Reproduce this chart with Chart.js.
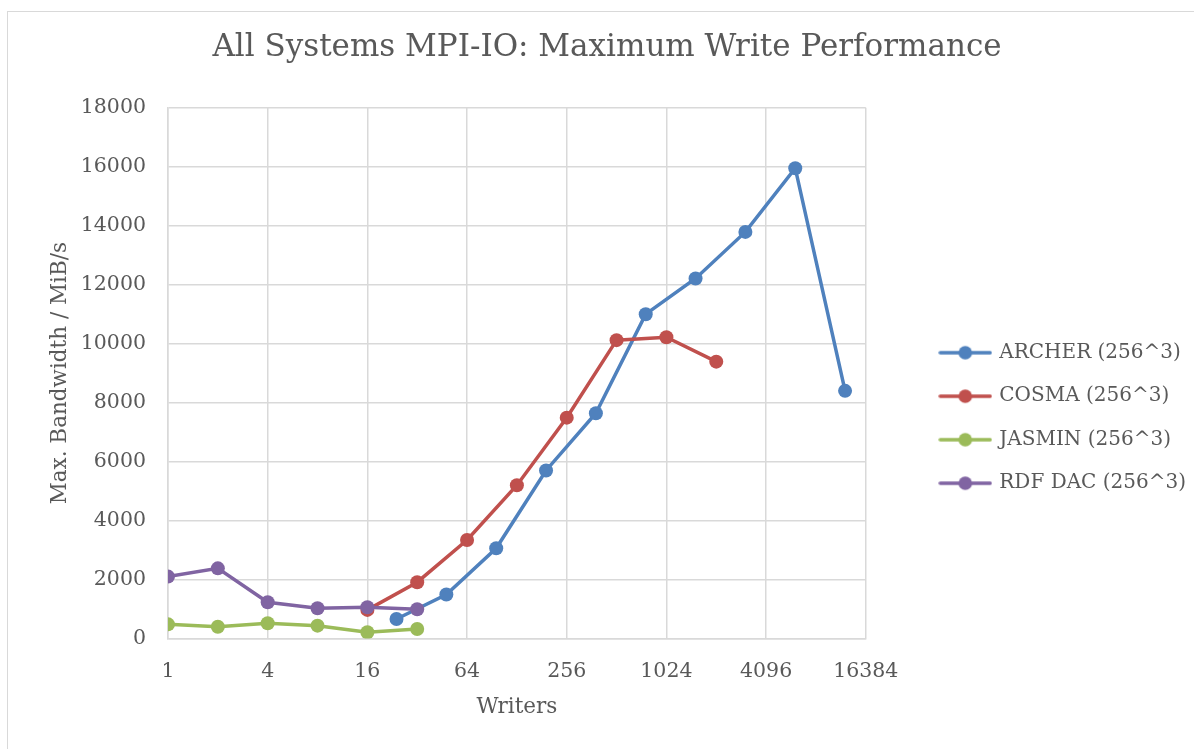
<!DOCTYPE html>
<html><head><meta charset="utf-8">
<script src="https://cdn.jsdelivr.net/npm/chart.js@4/dist/chart.umd.min.js"></script>
<style>
html,body{margin:0;padding:0;background:#fff;overflow:hidden;width:1194px;height:749px;}
#frame{position:absolute;left:7px;top:11px;width:1400px;height:1000px;border:1px solid #d9d9d9;}
#wrap{position:absolute;left:0;top:0;width:1194px;height:749px;}
</style></head><body>
<div id="frame"></div>
<div id="wrap"><canvas id="c" width="1194" height="749"></canvas></div>
<script>
// ---- data ----
const seriesNames = ['ARCHER (256^3)', 'COSMA (256^3)', 'JASMIN (256^3)', 'RDF DAC (256^3)'];
const writersArcher = [24, 48, 96, 192, 384, 768, 1536, 3072, 6144, 12288];
const archer = [660, 1490, 3060, 5700, 7640, 11000, 12210, 13790, 15950, 8400];
const writersCosma = [16, 32, 64, 128, 256, 512, 1024, 2048];
const cosma = [970, 1910, 3340, 5200, 7490, 10120, 10220, 9390];
const writersSmall = [1, 2, 4, 8, 16, 32];
const jasmin = [480, 400, 515, 435, 210, 320];
const rdfdac = [2100, 2380, 1230, 1025, 1060, 990];
const xTickValues = [1, 4, 16, 64, 256, 1024, 4096, 16384];
const yMin = 0, yMax = 18000, yStep = 2000;

const colors = ['#4F81BD', '#C0504D', '#9BBB59', '#8064A2'];
const FONT = "'DejaVu Serif', serif";
const TXT = '#595959';

function pts(xs, ys) { return xs.map((x, i) => ({ x: x, y: ys[i] })); }

function marker(color) {
  const c = document.createElement('canvas');
  c.width = 54; c.height = 16;
  const g = c.getContext('2d');
  g.strokeStyle = color; g.lineWidth = 3.3; g.lineCap = 'round';
  g.beginPath(); g.moveTo(2, 8); g.lineTo(52, 8); g.stroke();
  g.fillStyle = color; g.beginPath(); g.arc(27, 8, 6.8, 0, Math.PI * 2); g.fill();
  return c;
}
const markers = colors.map(marker);

function ds(i, data, order) {
  return {
    label: seriesNames[i], data: data, order: order,
    borderColor: colors[i], backgroundColor: colors[i],
    pointBackgroundColor: colors[i], pointBorderColor: colors[i],
    borderWidth: 3.5, pointRadius: 7, pointHoverRadius: 7, pointBorderWidth: 0,
    tension: 0, fill: false
  };
}

const LEG_FONT = 20, LEG_PAD = 23.5;
const placePlugin = {
  id: 'place',
  afterLayout(chart) {
    const lg = chart.legend;
    if (lg) {
      const w = lg.width;
      lg.left = 917.8; lg.right = lg.left + w;
      const top = 352.7 - LEG_FONT / 2 - LEG_PAD;
      lg.top = top; lg.bottom = top + LEG_PAD + 4 * (LEG_FONT + LEG_PAD);
    }
    const t = chart.titleBlock;
    if (t) { t.left = 20; t.right = 1194; }
  }
};

new Chart(document.getElementById('c'), {
  type: 'line',
  data: {
    datasets: [
      ds(0, pts(writersArcher, archer), 3),
      ds(1, pts(writersCosma, cosma), 2),
      ds(2, pts(writersSmall, jasmin), 1),
      ds(3, pts(writersSmall, rdfdac), 0)
    ]
  },
  plugins: [placePlugin],
  options: {
    responsive: false, animation: false,
    events: [],
    layout: { padding: { left: 0, right: 50, top: 0, bottom: 0 } },
    font: { family: FONT },
    plugins: {
      title: {
        display: true, text: 'All Systems MPI-IO: Maximum Write Performance',
        color: TXT, font: { family: FONT, size: 31, weight: 'normal' },
        padding: { top: 29, bottom: 41.6 }
      },
      legend: {
        display: true, position: 'right', align: 'center',
        labels: {
          color: TXT, font: { family: FONT, size: LEG_FONT },
          usePointStyle: true, pointStyleWidth: 48, padding: LEG_PAD,
          sort: (a, b) => a.datasetIndex - b.datasetIndex,
          generateLabels: (chart) => {
            const items = Chart.defaults.plugins.legend.labels.generateLabels(chart);
            items.forEach(it => { it.pointStyle = markers[it.datasetIndex]; it.fontColor = TXT; });
            return items;
          }
        }
      },
      tooltip: { enabled: false }
    },
    scales: {
      x: {
        type: 'logarithmic', min: 1, max: 16384,
        afterBuildTicks: (axis) => { axis.ticks = xTickValues.map(v => ({ value: v })); },
        afterFit: (scale) => { scale.height = 749 - 638.5; },
        ticks: {
          color: TXT, font: { family: FONT, size: 20.5 }, padding: 21,
          autoSkip: false, maxRotation: 0, minRotation: 0,
          callback: (v) => String(v)
        },
        grid: { color: '#d9d9d9', lineWidth: 1.5, drawTicks: false },
        border: { color: '#d9d9d9', width: 1.5 },
        title: { display: true, text: 'Writers', color: TXT, font: { family: FONT, size: 21.5 }, padding: { top: 0, bottom: 28.5 } }
      },
      y: {
        type: 'linear', min: yMin, max: yMax,
        afterFit: (scale) => { scale.width = 168; },
        ticks: { stepSize: yStep, color: TXT, font: { family: FONT, size: 20.5 }, padding: 22, callback: (v) => String(v) },
        grid: { color: '#d9d9d9', lineWidth: 1.5, drawTicks: false },
        border: { color: '#d9d9d9', width: 1.5 },
        title: { display: true, text: 'Max. Bandwidth / MiB/s', color: TXT, font: { family: FONT, size: 21.5 }, padding: { top: 48, bottom: 0 } }
      }
    }
  }
});
</script>
</body></html>
